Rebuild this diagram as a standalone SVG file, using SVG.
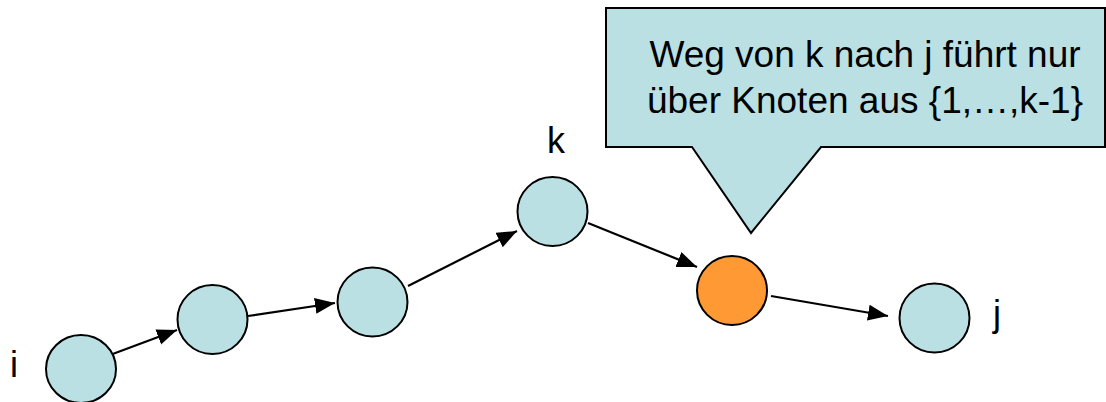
<svg xmlns="http://www.w3.org/2000/svg" width="1106" height="402" viewBox="0 0 1106 402">
  <style>
    .node { fill: #BAE0E3; stroke: #000; stroke-width: 2; }
    .hot { fill: #FF9933; stroke: #000; stroke-width: 2; }
    .edge { stroke: #000; stroke-width: 2.2; fill: none; marker-end: url(#arrow); }
    .lbl { font-family: "Liberation Sans", Arial, sans-serif; font-size: 36px; fill: #000; }
    .call { font-family: "Liberation Sans", Arial, sans-serif; font-size: 37px; fill: #000; }
  </style>
  <defs>
    <marker id="arrow" markerUnits="userSpaceOnUse" markerWidth="22" markerHeight="18" refX="20" refY="8" orient="auto">
      <path d="M0,0 L20,8 L0,16 Z" fill="#000"/>
    </marker>
  </defs>
  <rect width="1106" height="402" fill="#fff"/>

  <g id="callout">
    <path d="M606,8 H1105 V147 H821 L751,233 L692,147 H606 Z" fill="#BAE0E3" stroke="#000" stroke-width="2"/>
    <text class="call" x="865" y="67" text-anchor="middle">Weg von k nach j führt nur</text>
    <text class="call" x="865" y="113" text-anchor="middle">über Knoten aus {1,…,k-1}</text>
  </g>

  <g id="connectors">
    <line class="edge" x1="110" y1="355" x2="177" y2="330"/>
    <line class="edge" x1="248" y1="316" x2="335" y2="303"/>
    <line class="edge" x1="408" y1="286" x2="517" y2="231"/>
    <line class="edge" x1="588" y1="223" x2="697" y2="267"/>
    <line class="edge" x1="771" y1="296" x2="888" y2="316"/>
  </g>

  <g id="node-i">
    <ellipse class="node" cx="81" cy="369" rx="35" ry="34"/>
    <text class="lbl" x="14" y="377" text-anchor="middle">i</text>
  </g>
  <g id="node-2">
    <ellipse class="node" cx="212.5" cy="319.5" rx="35" ry="34.5"/>
  </g>
  <g id="node-3">
    <ellipse class="node" cx="372.5" cy="302" rx="35" ry="34.5"/>
  </g>
  <g id="node-k">
    <ellipse class="node" cx="552.5" cy="211.5" rx="35" ry="34.5"/>
    <text class="lbl" x="556" y="153" text-anchor="middle">k</text>
  </g>
  <g id="node-x">
    <ellipse class="hot" cx="732" cy="290.5" rx="35" ry="34.5"/>
  </g>
  <g id="node-j">
    <ellipse class="node" cx="934.5" cy="318" rx="35" ry="34.5"/>
    <text class="lbl" x="997" y="326" text-anchor="middle">j</text>
  </g>
</svg>
